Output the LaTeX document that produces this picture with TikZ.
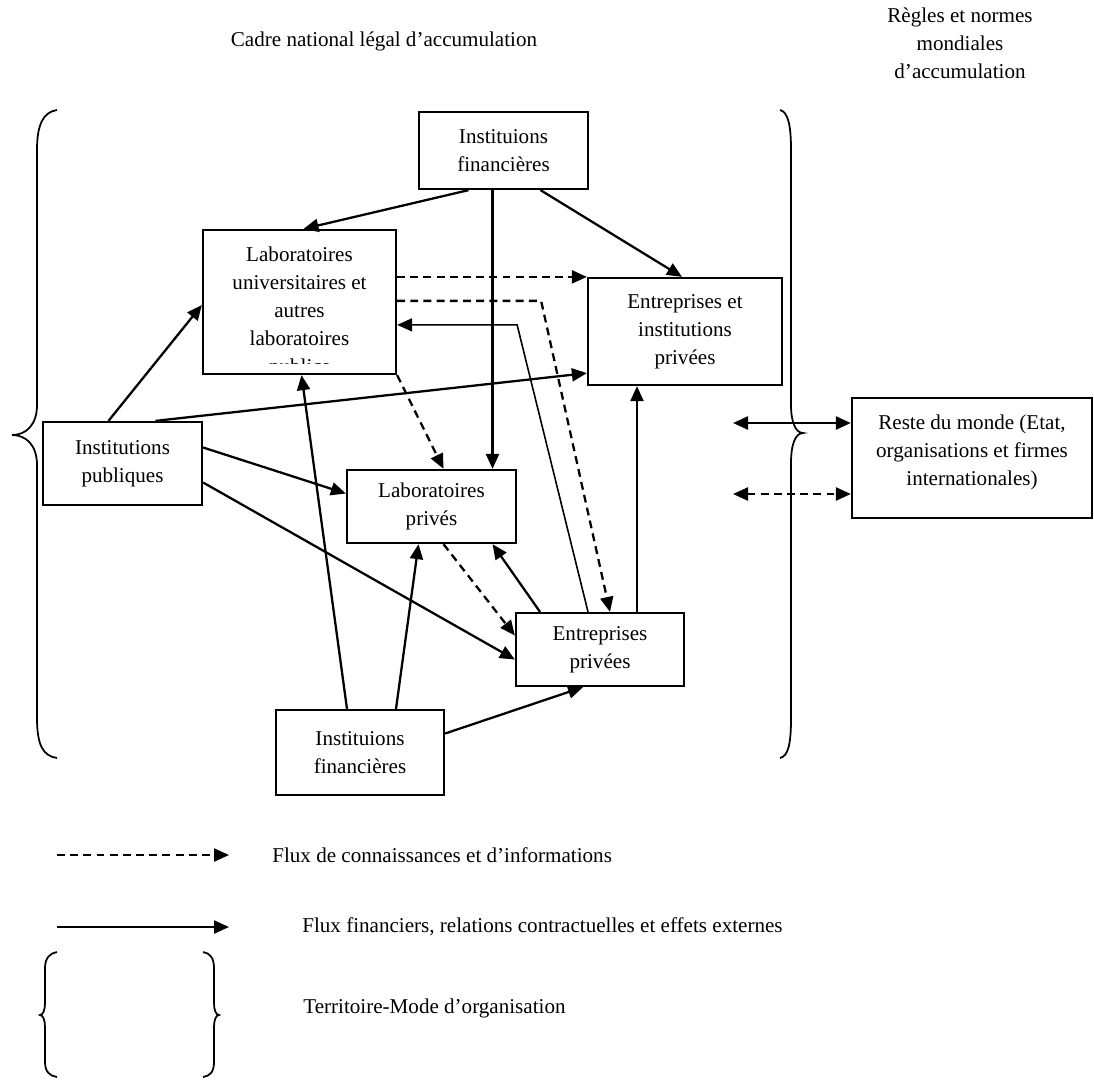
\documentclass[tikz,border=0pt]{standalone}
\usepackage{fontspec}
\setmainfont{Liberation Serif}
\usetikzlibrary{arrows.meta,calc}

\begin{document}
\begin{tikzpicture}[x=0.02cm, y=-0.02cm,
    txt/.style={font=\fontsize{12}{15.9}\selectfont, align=center, inner sep=0pt},
    box/.style={txt, draw, line width=1.3pt},
    flow/.style={line width=1.3pt, -{Triangle[length=0.3cm, width=0.26cm]}},
    both/.style={line width=1.3pt, {Triangle[length=0.3cm, width=0.26cm]}-{Triangle[length=0.3cm, width=0.26cm]}},
    know/.style={dash pattern=on 4.5pt off 3pt},
    brace/.style={line width=1pt}]
\useasboundingbox (0,0) rectangle (1094,1079);

\node[txt] (cadre) at (384,41) {Cadre national légal d’accumulation};
\node[txt] (regles) at (960,43) {Règles et normes\\mondiales\\d’accumulation};

\draw[brace] (57,110) .. controls (43,112) and (37,125) .. (37,150) -- (37,405)
    .. controls (37,425) and (26,435) .. (12,435) .. controls (26,435) and (37,445) .. (37,465)
    -- (37,718) .. controls (37,745) and (43,756) .. (57,758);
\draw[brace] (780,110) .. controls (788,112) and (791,125) .. (791,150) -- (791,405)
    .. controls (791,423) and (796,433) .. (803,433) .. controls (796,433) and (791,443) .. (791,463)
    -- (791,718) .. controls (791,745) and (788,756) .. (780,758);

\node[box, minimum width=3.38cm, minimum height=1.54cm] (finH) at (503.5,150.5) {Instituions\\financières};
\node[box, minimum width=3.86cm, minimum height=2.88cm] (labU) at (299.5,302) {};
\begin{scope}
\clip (labU.north west) rectangle ($(labU.south east)+(0,-12)$);
\node[txt] (labUtxt) at (299.5,312.5) {Laboratoires\\universitaires et\\autres\\laboratoires\\publics};
\end{scope}
\node[box, minimum width=3.88cm, minimum height=2.14cm] (entI) at (685,331.5) {Entreprises et\\institutions\\privées};
\node[box, minimum width=3.18cm, minimum height=1.66cm] (pub) at (122.5,463.5) {Institutions\\publiques};
\node[box, minimum width=3.38cm, minimum height=1.46cm] (labP) at (431.5,506.5) {Laboratoires\\privés};
\node[box, minimum width=3.36cm, minimum height=1.46cm] (entP) at (600,649.5) {Entreprises\\privées};
\node[box, minimum width=3.36cm, minimum height=1.70cm] (finB) at (360,752.5) {Instituions\\financières};
\node[box, minimum width=4.80cm, minimum height=2.40cm, text depth=0.33cm] (reste) at (972,458) {Reste du monde (Etat,\\organisations et firmes\\internationales)};

\draw[flow] ($(finH.south)+(-35,0)$) -- ($(labU.north)+(4,0)$);
\draw[flow] ($(finH.south)+(37,0)$) -- ($(entI.north)+(-3,0)$);
\draw[flow] ($(finH.south)+(-11,0)$) coordinate (v1) -- (v1 |- labP.north);
\draw[flow, know] ($(labU.north east)+(0,48)$) coordinate (d1) -- (d1 -| entI.west);
\draw[flow, know] ($(labU.north east)+(0,72)$) -- ++(144,0) -- ($(entP.north)+(10,0)$);
\draw[flow, line width=0.9pt] ($(entP.north)+(-12,0)$) -- ($(labU.north east)+(120,96)$) -- ($(labU.north east)+(0,96)$);
\draw[flow, know] (labU.south east) -- ($(labP.north)+(12,0)$);
\draw[flow] ($(pub.north)+(-14,0)$) -- ($(labU.west)+(0,3)$);
\draw[flow] ($(pub.north)+(33,0)$) -- ($(entI.south west)+(0,-13)$);
\draw[flow] ($(pub.east)+(0,-16)$) -- ($(labP.west)+(0,-13)$);
\draw[flow] ($(pub.east)+(0,19)$) -- ($(entP.west)+(0,10)$);
\draw[flow, know] ($(labP.south)+(12,0)$) -- ($(entP.west)+(0,-14)$);
\draw[flow] ($(entP.north)+(-60,0)$) -- ($(labP.south)+(61,0)$);
\draw[flow] ($(entP.north)+(37,0)$) coordinate (u1) -- (u1 |- entI.south);
\draw[flow] ($(finB.north)+(-13,0)$) -- ($(labU.south)+(2,0)$);
\draw[flow] ($(finB.north)+(36,0)$) -- ($(labP.south)+(-13,0)$);
\draw[flow] ($(finB.east)+(0,-19)$) -- ($(entP.south)+(-17,0)$);

\coordinate (w1) at (733,423);
\coordinate (w2) at (733,494);
\draw[both] (w1) -- (w1 -| reste.west);
\draw[both, know] (w2) -- (w2 -| reste.west);

\coordinate (k1) at (57,855);
\coordinate (k1e) at (229,855);
\coordinate (k2) at (57,927);
\coordinate (k2e) at (229,927);
\draw[flow, know] (k1) -- (k1e);
\draw[flow] (k2) -- (k2e);
\node[txt, anchor=west] (leg1) at (272,855) {Flux de connaissances et d’informations};
\node[txt, anchor=west] (leg2) at (302,927) {Flux financiers, relations contractuelles et effets externes};
\draw[brace] (57,952) .. controls (50,953) and (45,958) .. (45,968) -- (45,1003)
    .. controls (45,1010) and (43,1015) .. (40,1015) .. controls (43,1015) and (45,1020) .. (45,1027)
    -- (45,1062) .. controls (45,1072) and (50,1076) .. (57,1077);
\draw[brace] (203,952) .. controls (210,953) and (214,958) .. (214,968) -- (214,1003)
    .. controls (214,1010) and (216,1015) .. (219,1015) .. controls (216,1015) and (214,1020) .. (214,1027)
    -- (214,1062) .. controls (214,1072) and (210,1076) .. (203,1077);
\node[txt, anchor=west] (leg3) at (303,1008) {Territoire-Mode d’organisation};
\end{tikzpicture}
\end{document}
